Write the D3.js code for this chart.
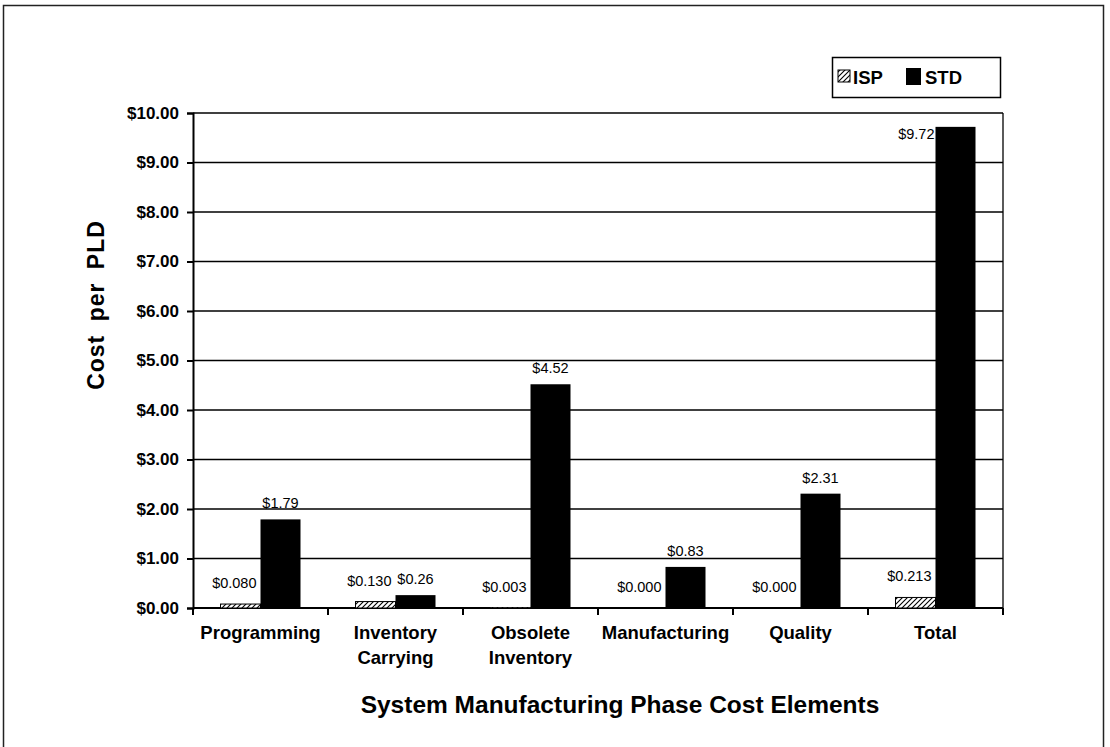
<!DOCTYPE html>
<html>
<head>
<meta charset="utf-8">
<script src="https://cdn.jsdelivr.net/npm/d3@7"></script>
<style>
  body { margin: 0; background: #fff; }
  text { font-family: Arial, "Liberation Sans", Helvetica, sans-serif; fill: #000; }
</style>
</head>
<body>
<div id="chart"></div>
<script>
// data
const categories = [["Programming"], ["Inventory", "Carrying"], ["Obsolete", "Inventory"], ["Manufacturing"], ["Quality"], ["Total"]];
const ispValues = [0.080, 0.130, 0.003, 0.000, 0.000, 0.213];
const stdValues = [1.79, 0.26, 4.52, 0.83, 2.31, 9.72];
const seriesNames = ["ISP", "STD"];
const yTicks = [0, 1, 2, 3, 4, 5, 6, 7, 8, 9, 10];

const width = 1110, height = 747;
const plotLeft = 193, plotRight = 1003, plotTop = 113, plotBottom = 608;
const barW = 40;

const svg = d3.select("#chart")
    .append("svg")
    .attr("width", width)
    .attr("height", height);

// hatch pattern for ISP
const defs = svg.append("defs");
const pat = defs.append("pattern")
    .attr("id", "hatch")
    .attr("patternUnits", "userSpaceOnUse")
    .attr("width", 5)
    .attr("height", 5);
pat.append("rect").attr("width", 5).attr("height", 5).attr("fill", "#fff");
pat.append("path")
    .attr("d", "M-1,6 L6,-1 M-1,1 L1,-1 M4,6 L6,4")
    .attr("stroke", "#000")
    .attr("stroke-width", 1.1);

// outer frame
svg.append("rect")
    .attr("x", 3.5).attr("y", 5.5)
    .attr("width", 1100).attr("height", 800)
    .attr("fill", "none")
    .attr("stroke", "#222")
    .attr("stroke-width", 1.5);

const x = d3.scaleBand()
    .domain(d3.range(categories.length))
    .range([plotLeft, plotRight])
    .padding(0);

const y = d3.scaleLinear()
    .domain([0, 10])
    .range([plotBottom, plotTop]);

// gridlines
svg.append("g")
    .selectAll("line")
    .data(yTicks)
    .join("line")
    .attr("x1", plotLeft).attr("x2", plotRight)
    .attr("y1", d => y(d)).attr("y2", d => y(d))
    .attr("stroke", "#000")
    .attr("stroke-width", 1.3);

// right border of plot
svg.append("line")
    .attr("x1", plotRight).attr("x2", plotRight)
    .attr("y1", plotTop).attr("y2", plotBottom)
    .attr("stroke", "#000")
    .attr("stroke-width", 1.3);

// y axis
const yAxis = svg.append("g")
    .attr("transform", "translate(" + plotLeft + ",0)")
    .call(d3.axisLeft(y)
        .tickValues(yTicks)
        .tickSize(6)
        .tickPadding(8)
        .tickFormat(d => "$" + d.toFixed(2)));
yAxis.select(".domain").attr("stroke", "#000").attr("stroke-width", 2);
yAxis.selectAll(".tick line").attr("stroke", "#000").attr("stroke-width", 2);
yAxis.selectAll(".tick text")
    .attr("font-size", 17)
    .attr("font-weight", "bold")
    .attr("font-family", "Arial, 'Liberation Sans', sans-serif");

// x axis line + ticks at band edges
const edges = x.domain().map(i => x(i)).concat([plotRight]);
svg.append("line")
    .attr("x1", plotLeft).attr("x2", plotRight)
    .attr("y1", plotBottom).attr("y2", plotBottom)
    .attr("stroke", "#000")
    .attr("stroke-width", 2);
svg.append("g")
    .selectAll("line")
    .data(edges)
    .join("line")
    .attr("x1", d => d).attr("x2", d => d)
    .attr("y1", plotBottom).attr("y2", plotBottom + 7)
    .attr("stroke", "#000")
    .attr("stroke-width", 2);

// category labels
const catG = svg.append("g");
categories.forEach((lines, i) => {
    const t = catG.append("text")
        .attr("x", x(i) + x.bandwidth() / 2)
        .attr("y", 639)
        .attr("text-anchor", "middle")
        .attr("font-size", 18.5)
        .attr("font-weight", "bold");
    lines.forEach((s, j) => {
        t.append("tspan")
            .attr("x", x(i) + x.bandwidth() / 2)
            .attr("dy", j === 0 ? 0 : 25)
            .text(s);
    });
});

// bars
const cx = i => x(i) + x.bandwidth() / 2;

svg.append("g")
    .selectAll("rect")
    .data(ispValues)
    .join("rect")
    .attr("x", (d, i) => cx(i) - barW)
    .attr("y", d => y(d))
    .attr("width", barW)
    .attr("height", d => plotBottom - y(d))
    .attr("fill", "url(#hatch)")
    .attr("stroke", d => d > 0.01 ? "#000" : "none")
    .attr("stroke-width", 1);

svg.append("g")
    .selectAll("rect")
    .data(stdValues)
    .join("rect")
    .attr("x", (d, i) => cx(i))
    .attr("y", d => y(d))
    .attr("width", barW)
    .attr("height", d => plotBottom - y(d))
    .attr("fill", "#000");

// value labels
svg.append("g")
    .selectAll("text")
    .data(ispValues)
    .join("text")
    .attr("x", (d, i) => cx(i) - 4)
    .attr("y", d => y(d) - 16)
    .attr("text-anchor", "end")
    .attr("font-size", 14.5)
    .text(d => "$" + d.toFixed(3));

// labels that would run off the top sit beside the bar instead
const tooHigh = d => y(d) - 30 < plotTop;
svg.append("g")
    .selectAll("text")
    .data(stdValues)
    .join("text")
    .attr("x", (d, i) => tooHigh(d) ? cx(i) - 1 : cx(i) + barW / 2)
    .attr("y", d => tooHigh(d) ? y(d) + 12 : y(d) - 11)
    .attr("text-anchor", d => tooHigh(d) ? "end" : "middle")
    .attr("font-size", 14.5)
    .text(d => "$" + d.toFixed(2));

// axis titles
svg.append("text")
    .attr("transform", "translate(104,305) rotate(-90)")
    .attr("text-anchor", "middle")
    .attr("font-size", 23)
    .attr("font-weight", "bold")
    .attr("letter-spacing", 1)
    .attr("word-spacing", 6)
    .text("Cost per PLD");

svg.append("text")
    .attr("x", 620)
    .attr("y", 713)
    .attr("text-anchor", "middle")
    .attr("font-size", 24.5)
    .attr("font-weight", "bold")
    .text("System Manufacturing Phase Cost Elements");

// legend
const lg = svg.append("g");
lg.append("rect")
    .attr("x", 832.5).attr("y", 57.5)
    .attr("width", 168).attr("height", 40)
    .attr("fill", "#fff")
    .attr("stroke", "#000")
    .attr("stroke-width", 1.5);
lg.append("rect")
    .attr("x", 838).attr("y", 70)
    .attr("width", 12).attr("height", 12)
    .attr("fill", "url(#hatch)")
    .attr("stroke", "#000")
    .attr("stroke-width", 1);
lg.append("rect")
    .attr("x", 906).attr("y", 68)
    .attr("width", 15).attr("height", 17)
    .attr("fill", "#000");
lg.selectAll("text.leg")
    .data(seriesNames)
    .join("text")
    .attr("class", "leg")
    .attr("x", (d, i) => i === 0 ? 853 : 925)
    .attr("y", 84)
    .attr("font-size", 18.5)
    .attr("font-weight", "bold")
    .text(d => d);
</script>
</body>
</html>
